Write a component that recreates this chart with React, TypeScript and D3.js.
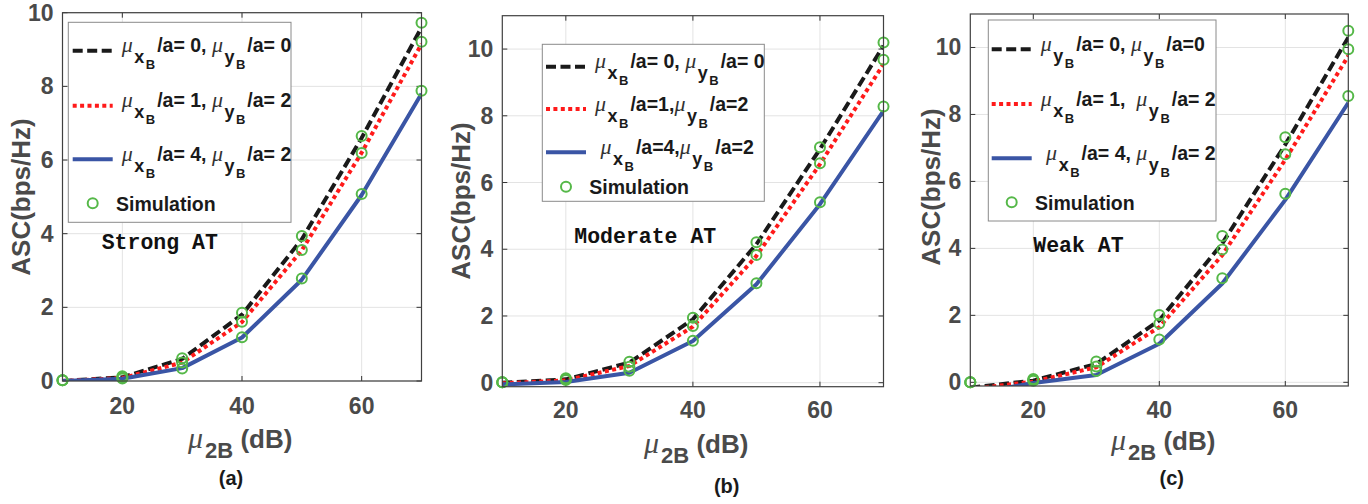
import React from "react";
import * as d3 from "d3";

// ---------- data ----------
const xValues = [10, 20, 30, 40, 50, 60, 70];
const xTicks = [20, 40, 60];
const yTicks = [0, 2, 4, 6, 8, 10];

// (a) Strong AT
const aLineK = [0.0, 0.1, 0.6, 1.8, 3.85, 6.6, 9.6];
const aLineR = [0.0, 0.08, 0.5, 1.6, 3.55, 6.2, 9.15];
const aLineB = [0.0, 0.06, 0.35, 1.18, 2.75, 5.05, 7.8];
const aSimK = [0.02, 0.13, 0.62, 1.85, 3.94, 6.65, 9.73];
const aSimR = [0.02, 0.1, 0.5, 1.61, 3.56, 6.19, 9.21];
const aSimB = [0.02, 0.07, 0.34, 1.19, 2.78, 5.08, 7.88];

// (b) Moderate AT
const bLineK = [0.0, 0.1, 0.6, 1.9, 4.15, 7.0, 10.1];
const bLineR = [-0.02, 0.07, 0.5, 1.68, 3.8, 6.55, 9.55];
const bLineB = [-0.05, 0.02, 0.3, 1.25, 2.95, 5.35, 8.15];
const bSimK = [0.01, 0.13, 0.63, 1.95, 4.21, 7.06, 10.2];
const bSimR = [0.01, 0.1, 0.48, 1.7, 3.83, 6.58, 9.68];
const bSimB = [0.01, 0.08, 0.36, 1.26, 2.98, 5.41, 8.28];

// (c) Weak AT
const cLineK = [-0.16, 0.05, 0.55, 1.85, 4.15, 7.1, 10.3];
const cLineR = [-0.2, 0.02, 0.45, 1.65, 3.8, 6.65, 9.75];
const cLineB = [-0.35, -0.02, 0.22, 1.15, 2.95, 5.45, 8.35];
const cSimK = [0.0, 0.1, 0.62, 2.01, 4.37, 7.32, 10.5];
const cSimR = [0.0, 0.07, 0.47, 1.76, 3.97, 6.81, 9.95];
const cSimB = [0.0, 0.05, 0.34, 1.28, 3.11, 5.63, 8.55];

const legendA = ["μ_{x_B}/a= 0, μ_{y_B}/a= 0", "μ_{x_B}/a= 1, μ_{y_B}/a= 2", "μ_{x_B}/a= 4, μ_{y_B}/a= 2", "Simulation"];
const legendB = ["μ_{x_B}/a= 0, μ_{y_B}/a= 0", "μ_{x_B}/a=1,μ_{y_B}/a=2", " μ_{x_B}/a=4,μ_{y_B}/a=2", "Simulation"];
const legendC = ["μ_{y_B}/a= 0, μ_{y_B}/a=0", "μ_{x_B}/a= 1,  μ_{y_B}/a= 2", " μ_{x_B}/a= 4, μ_{y_B}/a= 2", "Simulation"];

const notes = ["Strong AT", "Moderate AT", "Weak AT"];
const captions = ["(a)", "(b)", "(c)"];
const yAxisTitle = "ASC(bps/Hz)";
const xAxisUnit = " (dB)";
const xAxisSub = "2B";

// ---------- styles ----------
const lineStyles = [
  { color: "#1a1a1a", dash: "10,4.5", width: 4 },
  { color: "#ff1a1a", dash: "4,3.4", width: 4 },
  { color: "#3a55a5", dash: null as string | null, width: 4 },
];
const simColor = "#55b848";
const axisTextColor = "#4a4a4a";
const SANS = "'Liberation Sans', Arial, Helvetica, sans-serif";
const MU_FONT = "'Liberation Serif', 'Times New Roman', serif";

const panels = [
  {
    id: "a", lines: [aLineK, aLineR, aLineB], sims: [aSimK, aSimR, aSimB], legend: legendA,
    note: notes[0], caption: captions[0], yDomain: [0, 10],
    L: { left: 62.5, right: 421.5, top: 12.7, bottom: 381,
      leg: { x0: 68.3, y0: 22.3, x1: 291, y1: 222.3, rows: [50.7, 105.7, 159.3, 203.3], sx0: 72.7, sx1: 112.7, tx: 121.7, simTx: 116 },
      note: { x: 101.7, y: 249 }, yTitle: { x: 30, y: 197 }, xTitle: { x: 188, y: 448 }, cap: { x: 231, y: 485 }, tickY: 414 },
  },
  {
    id: "b", lines: [bLineK, bLineR, bLineB], sims: [bSimK, bSimR, bSimB], legend: legendB,
    note: notes[1], caption: captions[1], yDomain: [-0.12, 11],
    L: { left: 502.3, right: 883.5, top: 15.7, bottom: 386.7,
      leg: { x0: 542.3, y0: 44.3, x1: 764.3, y1: 201.3, rows: [66.7, 109, 152.3, 186.7], sx0: 546, sx1: 586, tx: 595, simTx: 589.3 },
      note: { x: 574.3, y: 243 }, yTitle: { x: 470, y: 201 }, xTitle: { x: 644, y: 453 }, cap: { x: 726.7, y: 493 }, tickY: 418 },
  },
  {
    id: "c", lines: [cLineK, cLineR, cLineB], sims: [cSimK, cSimR, cSimB], legend: legendC,
    note: notes[2], caption: captions[2], yDomain: [-0.11, 11],
    L: { left: 970.3, right: 1348.3, top: 14, bottom: 386,
      leg: { x0: 988.3, y0: 20, x1: 1216, y1: 221, rows: [49.3, 104, 158.3, 202.3], sx0: 991.7, sx1: 1031.7, tx: 1040.7, simTx: 1035 },
      note: { x: 1033.3, y: 252 }, yTitle: { x: 940, y: 187 }, xTitle: { x: 1111, y: 450 }, cap: { x: 1171.7, y: 485 }, tickY: 418 },
  },
];

function MuLabel({ str, x, y }: { str: string; x: number; y: number }) {
  const re = /μ_\{(\w)_(\w)\}/g;
  const out: React.ReactNode[] = [];
  let last = 0;
  let shift = 0;
  let k = 0;
  let m: RegExpExecArray | null;
  const back = () => { const d = -shift; shift = 0; return d; };
  while ((m = re.exec(str)) !== null) {
    if (m.index > last) {
      const afterSub = shift !== 0;
      out.push(<tspan key={k++} dx={afterSub ? 2 : 0} dy={back()}>{str.slice(last, m.index)}</tspan>);
    }
    out.push(<tspan key={k++} dy={back()} fontFamily={MU_FONT} fontStyle="italic" fontWeight="normal" fontSize={22} fill="#333">μ</tspan>);
    out.push(<tspan key={k++} dy={11} dx={1.5} fontSize={18}>{m[1]}</tspan>);
    out.push(<tspan key={k++} dy={6} dx={1.5} fontSize={13}>{m[2]}</tspan>);
    shift = 17;
    last = m.index + m[0].length;
  }
  if (last < str.length) out.push(<tspan key={k++} dy={back()} dx={2}>{str.slice(last)}</tspan>);
  return (
    <text x={x} y={y} fontFamily={SANS} fontWeight="bold" fontSize={19.5} fill="#1a1a1a" style={{ whiteSpace: "pre" }}>
      {out}
    </text>
  );
}

function Panel({ p }: { p: (typeof panels)[number] }) {
  const L = p.L;
  const x = d3.scaleLinear().domain([10, 70]).range([L.left, L.right]);
  const y = d3.scaleLinear().domain(p.yDomain).range([L.bottom, L.top]);
  const line = d3.line<number>().x((_, i) => x(xValues[i])).y((d) => y(d));
  const clipId = "clip-" + p.id;
  const tl = 5;
  return (
    <g>
      <defs>
        <clipPath id={clipId}>
          <rect x={L.left} y={L.top} width={L.right - L.left} height={L.bottom - L.top} />
        </clipPath>
      </defs>
      <rect x={L.left} y={L.top} width={L.right - L.left} height={L.bottom - L.top} fill="#fff" />
      {/* grid */}
      {xTicks.map((t) => (
        <line key={"gx" + t} x1={x(t)} x2={x(t)} y1={L.top} y2={L.bottom} stroke="#e3e3e3" strokeWidth={1} />
      ))}
      {yTicks.map((t) => (
        <line key={"gy" + t} x1={L.left} x2={L.right} y1={y(t)} y2={y(t)} stroke="#e3e3e3" strokeWidth={1} />
      ))}
      {/* ticks */}
      {xTicks.map((t) => (
        <g key={"tx" + t} stroke="#333" strokeWidth={1}>
          <line x1={x(t)} x2={x(t)} y1={L.bottom} y2={L.bottom - tl} />
          <line x1={x(t)} x2={x(t)} y1={L.top} y2={L.top + tl} />
        </g>
      ))}
      {yTicks.map((t) => (
        <g key={"ty" + t} stroke="#333" strokeWidth={1}>
          <line x1={L.left} x2={L.left + tl} y1={y(t)} y2={y(t)} />
          <line x1={L.right} x2={L.right - tl} y1={y(t)} y2={y(t)} />
        </g>
      ))}
      {/* lines */}
      <g clipPath={`url(#${clipId})`}>
        {p.lines.map((ys, i) => (
          <path key={"l" + i} d={line(ys) || ""} fill="none" stroke={lineStyles[i].color} strokeWidth={lineStyles[i].width}
            strokeDasharray={lineStyles[i].dash || undefined} strokeLinejoin="round" />
        ))}
      </g>
      {/* simulation markers */}
      {p.sims.map((ys, i) => (
        <g key={"s" + i}>
          {ys.map((v, j) => (
            <circle key={j} cx={x(xValues[j])} cy={y(v)} r={5} fill="none" stroke={simColor} strokeWidth={2} />
          ))}
        </g>
      ))}
      {/* box */}
      <rect x={L.left} y={L.top} width={L.right - L.left} height={L.bottom - L.top} fill="none" stroke="#404040" strokeWidth={1.2} />
      {/* tick labels */}
      {xTicks.map((t) => (
        <text key={"xl" + t} x={x(t)} y={L.tickY} textAnchor="middle" fontFamily={SANS} fontWeight="bold" fontSize={23} fill={axisTextColor}>{t}</text>
      ))}
      {yTicks.map((t) => (
        <text key={"yl" + t} x={L.left - 9} y={y(t) + 8} textAnchor="end" fontFamily={SANS} fontWeight="bold" fontSize={23} fill={axisTextColor}>{t}</text>
      ))}
      {/* axis titles */}
      <text transform={`translate(${L.yTitle.x},${L.yTitle.y}) rotate(-90)`} textAnchor="middle" fontFamily={SANS} fontWeight="bold" fontSize={26} fill={axisTextColor}>{yAxisTitle}</text>
      <text x={L.xTitle.x} y={L.xTitle.y} fontFamily={SANS} fontWeight="bold" fontSize={26} fill={axisTextColor} style={{ whiteSpace: "pre" }}>
        <tspan fontFamily={MU_FONT} fontStyle="italic" fontWeight="normal" fontSize={30}>μ</tspan>
        <tspan dy={10} dx={2} fontSize={22}>{xAxisSub}</tspan>
        <tspan dy={-10}>{xAxisUnit}</tspan>
      </text>
      <text x={L.cap.x} y={L.cap.y} textAnchor="middle" fontFamily={SANS} fontWeight="bold" fontSize={20} fill="#1a1a1a">{p.caption}</text>
      {/* annotation */}
      <text x={L.note.x} y={L.note.y} fontFamily="'Liberation Mono', 'Courier New', monospace" fontWeight="bold" fontSize={21.5} fill="#111" style={{ whiteSpace: "pre" }}>{p.note}</text>
      {/* legend */}
      <g>
        <rect x={L.leg.x0} y={L.leg.y0} width={L.leg.x1 - L.leg.x0} height={L.leg.y1 - L.leg.y0} fill="#fff" stroke="#8a8a8a" strokeWidth={1} />
        {lineStyles.map((s, i) => (
          <line key={"ll" + i} x1={L.leg.sx0} x2={L.leg.sx1} y1={L.leg.rows[i]} y2={L.leg.rows[i]} stroke={s.color} strokeWidth={s.width} strokeDasharray={s.dash || undefined} />
        ))}
        {p.legend.slice(0, 3).map((s, i) => (
          <MuLabel key={"lt" + i} str={s} x={L.leg.tx} y={L.leg.rows[i] + 1.5} />
        ))}
        <circle cx={(L.leg.sx0 + L.leg.sx1) / 2} cy={L.leg.rows[3]} r={5} fill="none" stroke={simColor} strokeWidth={2} />
        <text x={L.leg.simTx} y={L.leg.rows[3] + 7.5} fontFamily={SANS} fontWeight="bold" fontSize={19.5} fill="#1a1a1a">{p.legend[3]}</text>
      </g>
    </g>
  );
}

export default function App() {
  return (
    <svg width={1368} height={504} viewBox="0 0 1368 504" style={{ position: "absolute", left: 0, top: 0, background: "#fff" }}>
      <rect x={0} y={0} width={1368} height={504} fill="#fff" />
      {panels.map((p) => (
        <Panel key={p.id} p={p} />
      ))}
    </svg>
  );
}
